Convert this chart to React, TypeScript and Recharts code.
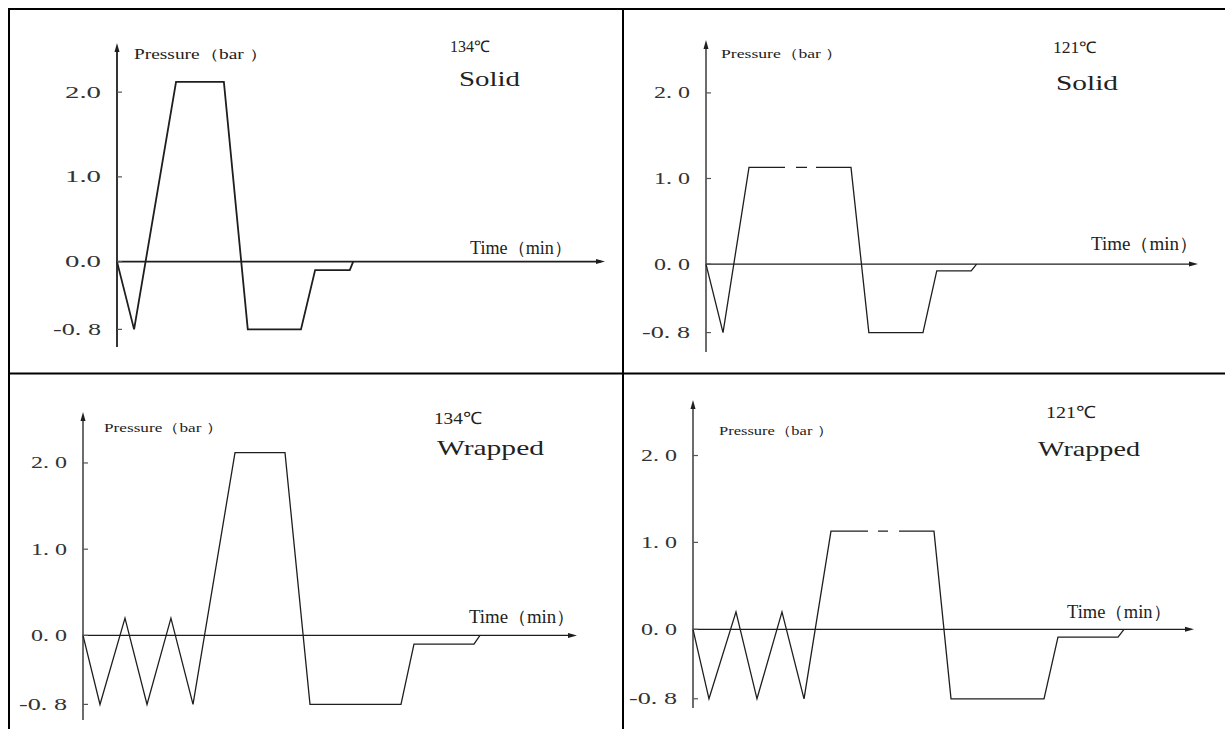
import React from "react";
import { LineChart, Line, XAxis, YAxis, ReferenceLine } from "recharts";

// pressure ticks and their printed labels
const yTicks = [-0.8, 0, 1, 2];
const tickLabelsSolid134 = ["-0. 8", "0.0", "1.0", "2.0"];
const tickLabelsSpaced = ["-0. 8", "0. 0", "1. 0", "2. 0"];

// time is relative (0 = pressure axis, 100 = end of time arrow)
const solid134Time = [0, 3.5, 12.1, 21.9, 26.8, 37.7, 40.6, 47.7, 48.4];
const solid134Pressure = [0, -0.8, 2.12, 2.12, -0.8, -0.8, -0.1, -0.1, 0];

// null = break in the (dashed) holding phase
const solid121Time = [0, 3.46, 8.74, 16.06, 17.2, 18.29, 20.53, 21.4, 22.36, 29.47, 33.1, 44.1, 46.9, 53.9, 55.0];
const solid121Pressure = [0, -0.8, 1.13, 1.13, null, 1.13, 1.13, null, 1.13, 1.13, -0.8, -0.8, -0.08, -0.08, 0];

const wrapped134Time = [0, 3.44, 8.5, 12.96, 17.8, 22.27, 30.77, 40.89, 45.95, 64.37, 67.0, 79.15, 80.36];
const wrapped134Pressure = [0, -0.8, 0.2, -0.8, 0.2, -0.8, 2.12, 2.12, -0.8, -0.8, -0.1, -0.1, 0];

const wrapped121Time = [0, 3.19, 8.58, 12.77, 17.76, 22.16, 27.54, 34.93, 36.0, 36.93, 38.92, 40.0, 41.12, 48.1, 51.5, 70.06, 72.85, 84.83, 86.03];
const wrapped121Pressure = [0, -0.8, 0.2, -0.8, 0.2, -0.8, 1.13, 1.13, null, 1.13, 1.13, null, 1.13, 1.13, -0.8, -0.8, -0.09, -0.09, 0];

const INK = "#1e1e1e";
const FONT = "'Liberation Serif', 'Times New Roman', serif";
const YW = 70;

type TextSpec = { x: number; y: number; w: number; size: number };

const panels = [
  {
    time: solid134Time, pressure: solid134Pressure, labels: tickLabelsSolid134,
    temp: "134℃", kind: "Solid",
    axisX: 117, axisLen: 488, top: 43, bottom: 347, domain: [-1.008, 2.58], sw: 1.8,
    pressureText: { x: 134, y: 59, w: 134, size: 14 },
    tempText: { x: 450, y: 52, w: 40, size: 16 },
    kindText: { x: 459, y: 86, w: 61, size: 22 },
    timeText: { x: 470, y: 254, w: 102, size: 18 },
  },
  {
    time: solid121Time, pressure: solid121Pressure, labels: tickLabelsSpaced,
    temp: "121℃", kind: "Solid",
    axisX: 706, axisLen: 492, top: 40, bottom: 352, domain: [-1.027, 2.618], sw: 1.3,
    pressureText: { x: 721, y: 58, w: 122, size: 13 },
    tempText: { x: 1053, y: 53, w: 44, size: 16 },
    kindText: { x: 1056, y: 90, w: 62, size: 22 },
    timeText: { x: 1091, y: 250, w: 107, size: 18 },
  },
  {
    time: wrapped134Time, pressure: wrapped134Pressure, labels: tickLabelsSpaced,
    temp: "134℃", kind: "Wrapped",
    axisX: 83, axisLen: 494, top: 412, bottom: 720, domain: [-0.981, 2.591], sw: 1.3,
    pressureText: { x: 104, y: 432, w: 119, size: 13 },
    tempText: { x: 434, y: 424, w: 48, size: 17 },
    kindText: { x: 437, y: 455, w: 107, size: 22 },
    timeText: { x: 469, y: 623, w: 106, size: 18 },
  },
  {
    time: wrapped121Time, pressure: wrapped121Pressure, labels: tickLabelsSpaced,
    temp: "121℃", kind: "Wrapped",
    axisX: 693, axisLen: 501, top: 400, bottom: 708, domain: [-0.906, 2.639], sw: 1.3,
    pressureText: { x: 719, y: 435, w: 114, size: 13 },
    tempText: { x: 1046, y: 418, w: 50, size: 17 },
    kindText: { x: 1038, y: 456, w: 102, size: 22 },
    timeText: { x: 1067, y: 618, w: 104, size: 18 },
  },
];

const makeTick = (labels: string[]) => (props: any) => {
  const { x, y, payload } = props;
  const label = labels[yTicks.indexOf(payload.value)];
  const chars = label.replace(/ /g, "").length;
  return (
    <g>
      <line x1={x + 16} x2={x + 21} y1={y} y2={y} stroke="#555" strokeWidth={1.2} />
      <text
        x={x - chars * 12}
        y={y}
        dominantBaseline="central"
        fontFamily={FONT}
        fontSize={17}
        fill="#333"
        textLength={chars * 12}
        lengthAdjust="spacingAndGlyphs"
      >
        {label}
      </text>
    </g>
  );
};

const yAxisShape = (sw: number) => (props: any) => {
  const { x1, y1, y2 } = props;
  const top = Math.min(y1, y2);
  const bot = Math.max(y1, y2);
  return (
    <g>
      <line x1={x1} x2={x1} y1={top + 4} y2={bot} stroke={INK} strokeWidth={sw} />
      <path d={`M${x1},${top} L${x1 - 2.5},${top + 9} L${x1 + 2.5},${top + 9} Z`} fill={INK} />
    </g>
  );
};

const xAxisShape = (sw: number) => (props: any) => {
  const { x1, x2, y1 } = props;
  const left = Math.min(x1, x2);
  const right = Math.max(x1, x2);
  return (
    <g>
      <line x1={left} x2={right - 4} y1={y1} y2={y1} stroke={INK} strokeWidth={sw} />
      <path d={`M${right},${y1} L${right - 9},${y1 - 2.5} L${right - 9},${y1 + 2.5} Z`} fill={INK} />
    </g>
  );
};

function Label({ t, text, italic }: { t: TextSpec; text: string; italic?: boolean }) {
  return (
    <text
      x={t.x}
      y={t.y}
      fontFamily={FONT}
      fontSize={t.size}
      fill="#222"
      textLength={t.w}
      lengthAdjust="spacingAndGlyphs"
      fontStyle={italic ? "italic" : "normal"}
    >
      {text}
    </text>
  );
}

function Panel({ p }: { p: (typeof panels)[number] }) {
  const data = p.time.map((t, i) => ({ t, p: p.pressure[i] }));
  const mTop = 6;
  const mRight = 10;
  return (
    <div style={{ position: "absolute", left: p.axisX - YW, top: p.top - mTop }}>
      <LineChart
        width={YW + p.axisLen + mRight}
        height={p.bottom - p.top + mTop * 2}
        data={data}
        margin={{ top: mTop, right: mRight, bottom: mTop, left: 0 }}
      >
        <XAxis dataKey="t" type="number" domain={[0, 100]} hide />
        <YAxis
          type="number"
          domain={p.domain}
          ticks={yTicks}
          width={YW}
          axisLine={false}
          tickLine={false}
          tickSize={0}
          tickMargin={16}
          interval={0}
          tick={makeTick(p.labels)}
        />
        <ReferenceLine
          segment={[{ x: 0, y: p.domain[0] }, { x: 0, y: p.domain[1] }]}
          ifOverflow="visible"
          shape={yAxisShape(p.sw)}
        />
        <ReferenceLine y={0} ifOverflow="visible" shape={xAxisShape(p.sw)} />
        <Line
          type="linear"
          dataKey="p"
          stroke={INK}
          strokeWidth={p.sw}
          dot={false}
          activeDot={false}
          isAnimationActive={false}
        />
      </LineChart>
    </div>
  );
}

export default function App() {
  return (
    <div style={{ position: "fixed", left: 0, top: 0, width: 1225, height: 729, background: "#fff", overflow: "hidden" }}>
      {panels.map((p, i) => (
        <Panel key={i} p={p} />
      ))}
      <svg
        width={1225}
        height={729}
        style={{ position: "absolute", left: 0, top: 0, pointerEvents: "none" }}
      >
        <rect x={8} y={8} width={1217} height={2} fill="#000" />
        <rect x={8} y={8} width={2} height={721} fill="#000" />
        <rect x={622} y={8} width={2} height={721} fill="#000" />
        <rect x={8} y={372.5} width={1217} height={2} fill="#000" />
        {panels.map((p, i) => (
          <g key={i}>
            <Label t={p.pressureText} text="Pressure（bar ）" />
            <Label t={p.tempText} text={p.temp} />
            <Label t={p.kindText} text={p.kind} />
            <Label t={p.timeText} text="Time（min）" />
          </g>
        ))}
      </svg>
    </div>
  );
}
